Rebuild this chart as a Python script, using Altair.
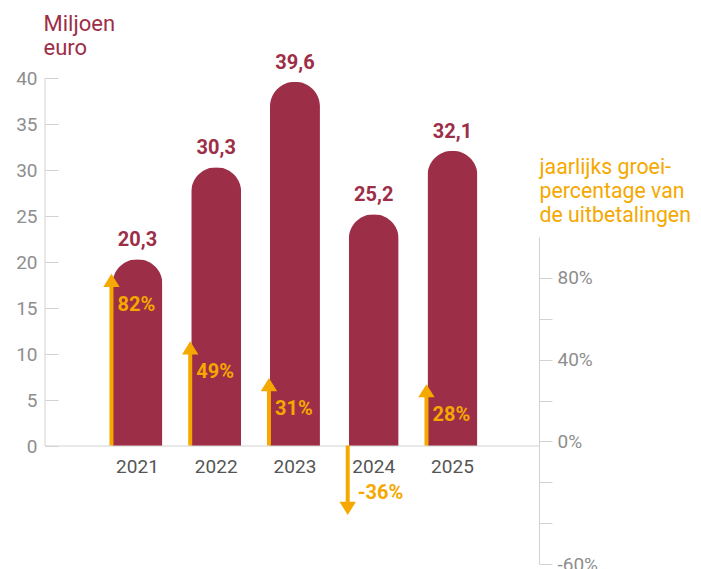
import altair as alt
import pandas as pd

# ---- data ----
years = ["2021", "2022", "2023", "2024", "2025"]
payouts = [20.3, 30.3, 39.6, 25.2, 32.1]          # miljoen euro
growth = [82, 49, 31, -36, 28]                     # jaarlijks groeipercentage (%)

left_ticks = [0, 5, 10, 15, 20, 25, 30, 35, 40]
right_ticks = [-60, -40, -20, 0, 20, 40, 60, 80]
right_labelled = [80, 40, 0, -60]

left_title = ["Miljoen", "euro"]
right_title = ["jaarlijks groei-", "percentage van", "de uitbetalingen"]

# ---- styles ----
BAR = "#9d2e47"
ORANGE = "#f5a800"
LINE = "#d2d2d2"
AXTXT = "#8e8e8e"
YEARTXT = "#555555"
FONT = "Roboto"

df = pd.DataFrame({"year": years, "payout": payouts, "growth": growth})
zero_df = pd.DataFrame({"v": [0], "top": [40]})

x_enc = alt.X(
    "year:N", sort=years, title=None,
    scale=alt.Scale(paddingInner=0.365, paddingOuter=0.819, align=0.523),
    axis=alt.Axis(domain=False, ticks=False, labelPadding=11, labelFontSize=19,
                  labelColor=YEARTXT, labelFont=FONT, labelAngle=0),
)

def left_scale():
    return alt.Scale(domain=[0, 40], nice=False, zero=True)

def right_scale():
    return alt.Scale(domain=[-60, 100], range=[486, 159], nice=False, zero=False)

label_expr = " || ".join(f"datum.value == {v}" for v in right_labelled)

left_axis = alt.Axis(
    orient="left",
    values=left_ticks, offset=-13, domain=False, tickSize=13, tickColor=LINE,
    labelPadding=8, labelFontSize=19, labelColor=AXTXT, labelFont=FONT,
    title=left_title, titleAngle=0, titleAlign="left", titleBaseline="bottom",
    titleX=-15, titleY=-43, titleColor=BAR, titleFontSize=22, titleFont=FONT,
    titleFontWeight="normal", titleLineHeight=24, grid=False,
)

right_axis = alt.Axis(
    orient="right", values=right_ticks, labelExpr=f"({label_expr}) ? datum.value + '%' : ''",
    domainColor=LINE, tickColor=LINE, tickSize=13, labelPadding=5,
    labelFontSize=19, labelColor=AXTXT, labelFont=FONT, grid=False,
    title=right_title, titleAngle=0, titleAlign="left", titleBaseline="bottom",
    titleX=0, titleY=99, titleColor=ORANGE, titleFontSize=21.3, titleFont=FONT,
    titleFontWeight="normal", titleLineHeight=24.3,
)

base = alt.Chart(df)

bars = base.mark_bar(color=BAR, size=50, cornerRadiusTopLeft=25, cornerRadiusTopRight=25).encode(
    x=x_enc,
    y=alt.Y("payout:Q", scale=left_scale(), axis=left_axis),
)

bar_labels = base.transform_calculate(
    lbl="replace(format(datum.payout, '.1f'), '.', ',')"
).mark_text(color=BAR, fontSize=20, fontWeight="bold", font=FONT, dy=-19, baseline="middle").encode(
    x=x_enc,
    y=alt.Y("payout:Q", scale=left_scale(), axis=None),
    text="lbl:N",
)

baseline = alt.Chart(zero_df).mark_rule(color=LINE, strokeWidth=1).encode(
    y=alt.Y("v:Q", scale=left_scale(), axis=None),
)

left_line = alt.Chart(zero_df).mark_rule(color=LINE, strokeWidth=1).encode(
    x=alt.value(0),
    y=alt.Y("v:Q", scale=left_scale(), axis=None),
    y2="top:Q",
)

arrows = base.transform_calculate(
    tail="datum.growth > 0 ? datum.growth - 5 : datum.growth + 5",
    base0="-2",
).mark_rule(color=ORANGE, strokeWidth=4, xOffset=-26).encode(
    x=x_enc,
    y=alt.Y("tail:Q", scale=right_scale(), axis=right_axis),
    y2="base0:Q",
)

heads = base.transform_calculate(
    shp="datum.growth > 0 ? 'M0,0L1,1.6L-1,1.6Z' : 'M0,0L1,-1.6L-1,-1.6Z'"
).mark_point(filled=True, size=270, opacity=1, color=ORANGE, strokeWidth=0, xOffset=-26).encode(
    x=x_enc,
    y=alt.Y("growth:Q", scale=right_scale(), axis=None),
    shape=alt.Shape("shp:N", scale=None, legend=None),
)

pct_pos = base.transform_filter("datum.growth > 0").transform_calculate(
    lbl="datum.growth + '%'"
).mark_text(color=ORANGE, fontSize=20, fontWeight="bold", font=FONT, align="left",
            baseline="middle", dx=-20, dy=31).encode(
    x=x_enc, y=alt.Y("growth:Q", scale=right_scale(), axis=None), text="lbl:N",
)

pct_neg = base.transform_filter("datum.growth < 0").transform_calculate(
    lbl="datum.growth + '%'"
).mark_text(color=ORANGE, fontSize=20, fontWeight="bold", font=FONT, align="left",
            baseline="middle", dx=-16, dy=-22).encode(
    x=x_enc, y=alt.Y("growth:Q", scale=right_scale(), axis=None), text="lbl:N",
)

chart = alt.layer(
    bars, bar_labels, baseline, left_line, arrows, heads, pct_pos, pct_neg
).resolve_scale(y="independent").properties(
    width=494, height=368,
    autosize=alt.AutoSizeParams(type="none"),
    padding={"left": 37, "top": 70, "right": 154, "bottom": 123},
    background="white",
).configure_view(stroke=None)

chart.save("out.html", embed_options={"renderer": "svg", "actions": False})
